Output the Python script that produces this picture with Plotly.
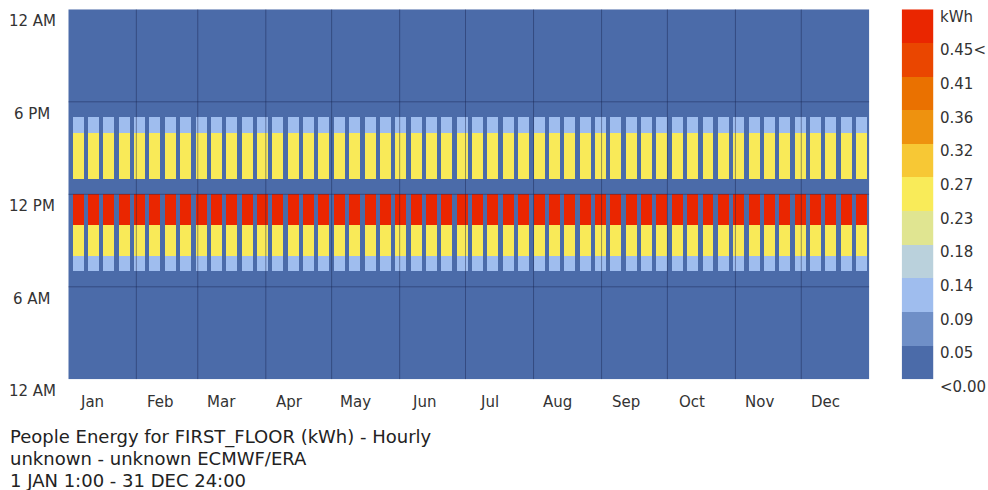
import numpy as np
import plotly.graph_objects as go

# ---- data -------------------------------------------------------------
months = ["Jan", "Feb", "Mar", "Apr", "May", "Jun",
          "Jul", "Aug", "Sep", "Oct", "Nov", "Dec"]
month_days = [31, 28, 31, 30, 31, 30, 31, 31, 30, 31, 30, 31]

# hourly people energy on a working day (kWh), hour 0 (midnight) first
workday_kwh = [0.0, 0.0, 0.0, 0.0, 0.0, 0.0, 0.0, 0.0909,
               0.2273, 0.2273, 0.4545, 0.4545, 0.0, 0.2273, 0.2273, 0.2273,
               0.0909, 0.0, 0.0, 0.0, 0.0, 0.0, 0.0, 0.0]
weekend_kwh = [0.0] * 24

# calendar: 1 Jan falls on a Saturday (Mon=0 ... Sun=6)
first_weekday = 5
weekend_days = [5, 6]

hour_labels = ["12 AM", "6 AM", "12 PM", "6 PM", "12 AM"]
hour_label_pos = [0, 6, 12, 18, 24]

legend_min, legend_max = 0.0, 0.4545
legend_labels = ["<0.00", "0.05", "0.09", "0.14", "0.18", "0.23",
                 "0.27", "0.32", "0.36", "0.41", "0.45<", "kWh"]

title_lines = ["People Energy for FIRST_FLOOR (kWh) - Hourly",
               "unknown - unknown ECMWF/ERA",
               "1 JAN 1:00 - 31 DEC 24:00"]

# Ladybug default gradient
lb_colors = [(75, 107, 169), (115, 147, 202), (170, 200, 247), (193, 213, 208),
             (245, 239, 103), (252, 230, 74), (239, 156, 21), (234, 123, 0),
             (234, 74, 0), (234, 38, 0)]

# ---- build grid -------------------------------------------------------
n_days = sum(month_days)
is_work = [((first_weekday + d) % 7) not in weekend_days for d in range(n_days)]
z = np.array([workday_kwh if w else weekend_kwh for w in is_work]).T  # 24 x 365

colorscale = [[i / (len(lb_colors) - 1), "rgb(%d,%d,%d)" % c]
              for i, c in enumerate(lb_colors)]

W, H = 988, 490
px_x = lambda v: v / W
px_y = lambda v: 1 - v / H

plot_l, plot_r, plot_t, plot_b = 68.3, 869.3, 9.3, 379.3
leg_l, leg_r = 901.7, 933.3

fig = go.Figure()
fig.add_trace(go.Heatmap(
    z=z, x=np.arange(n_days), y=np.arange(24),
    colorscale=colorscale, zmin=legend_min, zmax=legend_max,
    showscale=False, xaxis="x", yaxis="y", hoverinfo="skip"))

n_seg = len(legend_labels) - 1
seg_vals = np.linspace(legend_min, legend_max, n_seg)
fig.add_trace(go.Heatmap(
    z=[[v] for v in seg_vals], x=[0], y=np.arange(n_seg),
    colorscale=colorscale, zmin=legend_min, zmax=legend_max,
    showscale=False, xaxis="x2", yaxis="y2", hoverinfo="skip"))

shapes = []
grid_line = dict(color="rgba(25,35,80,0.45)", width=1)
start = 0
month_starts = []
for d in month_days:
    month_starts.append(start)
    start += d
for s in month_starts[1:]:
    shapes.append(dict(type="line", xref="x", yref="y", x0=s - 0.5, x1=s - 0.5,
                       y0=-0.5, y1=23.5, line=grid_line, layer="above"))
for h in hour_label_pos[1:-1]:
    shapes.append(dict(type="line", xref="x", yref="y", x0=-0.5, x1=n_days - 0.5,
                       y0=h - 0.5, y1=h - 0.5, line=grid_line, layer="above"))

font = dict(family="DejaVu Sans, Verdana, sans-serif", size=15, color="#333333")
ann = []
for lab, p in zip(hour_labels, hour_label_pos):
    ann.append(dict(text=lab, xref="paper", yref="y", x=px_x(32), y=p - 0.5,
                    xanchor="center", yanchor="middle", yshift=-12,
                    showarrow=False, font=font))
for lab, s in zip(months, month_starts):
    ann.append(dict(text=lab, xref="x", yref="paper", x=s - 0.5 + 11, y=px_y(402),
                    xanchor="center", yanchor="middle",
                    showarrow=False, font=font))
for i, lab in enumerate(legend_labels):
    ann.append(dict(text=lab, xref="paper", yref="y2", x=px_x(938), y=i - 0.5,
                    xanchor="left", yanchor="middle", yshift=-7.5,
                    showarrow=False, font=font))
for i, line in enumerate(title_lines):
    ann.append(dict(text=line, xref="paper", yref="paper", x=px_x(8),
                    y=px_y(437 + 21.5 * i), xanchor="left", yanchor="middle",
                    showarrow=False, font=dict(font, size=18, color="#222222")))

axis_off = dict(showticklabels=False, showgrid=False, zeroline=False,
                ticks="", showline=False, fixedrange=True)
fig.update_layout(
    width=W, height=H, margin=dict(l=0, r=0, t=0, b=0),
    paper_bgcolor="white", plot_bgcolor="white",
    xaxis=dict(axis_off, domain=[px_x(plot_l), px_x(plot_r)],
               range=[-0.5, n_days - 0.5], anchor="y"),
    yaxis=dict(axis_off, domain=[px_y(plot_b), px_y(plot_t)],
               range=[-0.5, 23.5], anchor="x"),
    xaxis2=dict(axis_off, domain=[px_x(leg_l), px_x(leg_r)],
                range=[-0.5, 0.5], anchor="y2"),
    yaxis2=dict(axis_off, domain=[px_y(plot_b), px_y(plot_t)],
                range=[-0.5, n_seg - 0.5], anchor="x2"),
    shapes=shapes, annotations=ann, showlegend=False,
)

fig.write_html("out.html")
